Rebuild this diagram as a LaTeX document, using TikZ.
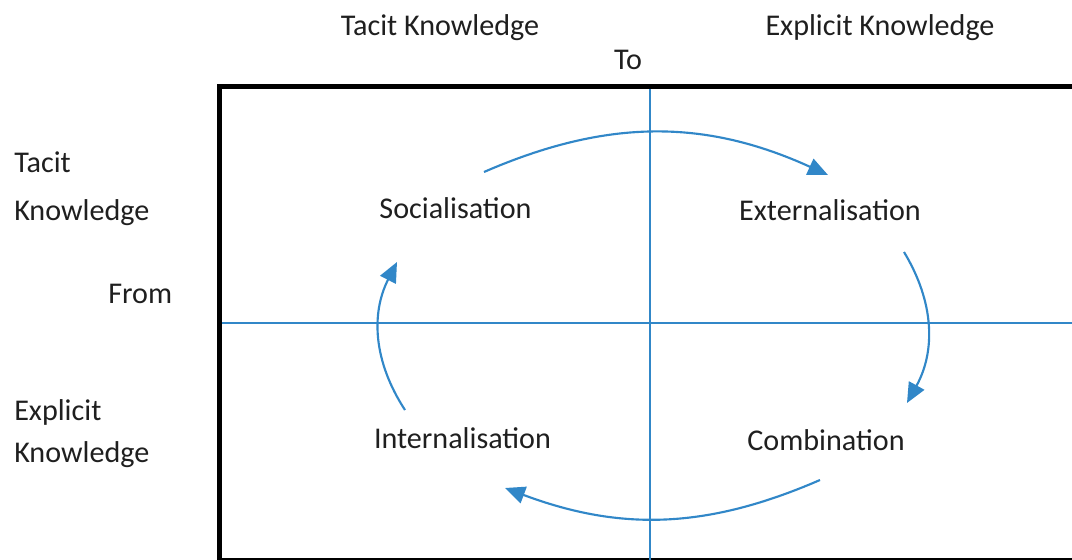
\documentclass[tikz,border=0pt]{standalone}
\usepackage{fontspec}
\setmainfont{Carlito}
\usetikzlibrary{arrows.meta}
\definecolor{seciblue}{RGB}{49,135,200}

\begin{document}
\begin{tikzpicture}[x=0.75pt,y=-0.75pt,
  lbl/.style={font=\fontsize{22.6}{27}\selectfont, text=black!88, inner sep=0pt, anchor=base},
  side/.style={lbl, anchor=base west},
  axis/.style={draw=seciblue, line width=1.5pt},
  cycle/.style={draw=seciblue, line width=1.6pt, -{Triangle[length=15pt,width=13pt]}}]
\clip (0,0) rectangle (1072,560);

% frame and the two axes
\draw[line width=3.8pt] (219.5,86.5) rectangle (1080,560.5);
\draw[axis] (650,89) -- (650,560);
\draw[axis] (222,322.5) -- (1072,322.5);

% column and row headings
\node[lbl] (tacitTo) at (440,36) {Tacit Knowledge};
\node[lbl] (explTo) at (880,36) {Explicit Knowledge};
\node[lbl] (to) at (628,70) {To};
\node[side] (tacitA) at (14,172) {Tacit};
\node[side] (tacitB) at (14,220) {Knowledge};
\node[side] (from) at (108,303) {From};
\node[side] (explA) at (14,420) {Explicit};
\node[side] (explB) at (14,462) {Knowledge};

% the four modes
\node[lbl] (soc) at (455.5,218) {Socialisation};
\node[lbl] (ext) at (830,220) {Externalisation};
\node[lbl] (int) at (462.5,448) {Internalisation};
\node[lbl] (comb) at (826,450) {Combination};

% ends of the arcs
\coordinate (socOut) at (484,172);
\coordinate (extIn) at (828,175);
\coordinate (extOut) at (904,252);
\coordinate (combIn) at (907,403);
\coordinate (combOut) at (820,480);
\coordinate (intIn) at (505,488);
\coordinate (intOut) at (405,410);
\coordinate (socIn) at (397,262);

\draw[cycle] (socOut) to[bend left=24] (extIn);
\draw[cycle] (extOut) to[bend left=30] (combIn);
\draw[cycle] (combOut) to[bend left=22] (intIn);
\draw[cycle] (intOut) to[bend left=30] (socIn);
\end{tikzpicture}
\end{document}
